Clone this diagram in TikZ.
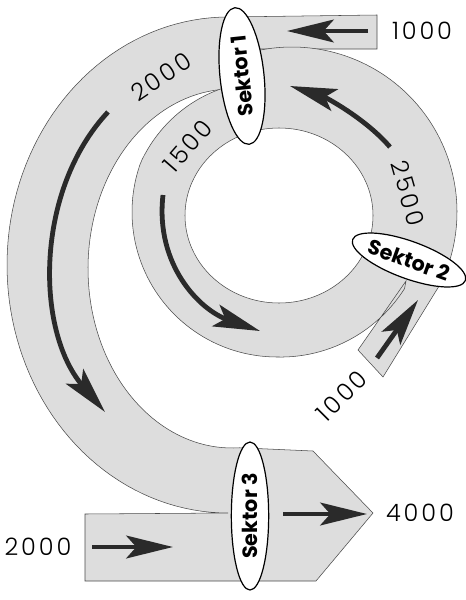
\documentclass[tikz,border=0pt]{standalone}
\usepackage{fontspec}
\setmainfont{Poppins}
\newfontfamily\numfont[LetterSpace=12,UprightFont=* Light]{Poppins}
\usetikzlibrary{arrows.meta,shapes.geometric}
\definecolor{flowgray}{HTML}{DDDDDD}
\definecolor{edgegray}{HTML}{4A4A4A}
\definecolor{arrowgray}{HTML}{2A2A2A}

\begin{document}
\begin{tikzpicture}[x=0.75pt,y=-0.75pt,
  band/.style={fill=flowgray,draw=edgegray,line width=0.4pt},
  flow/.style={-{Stealth[length=35pt,width=17pt,inset=7.5pt]},line width=3.6pt,arrowgray},
  sektor/.style={ellipse,draw=black,line width=0.9pt,fill=white,inner sep=0pt,
    font=\bfseries\fontsize{15.5}{15.5}\selectfont},
  amount/.style={font=\numfont\fontsize{18}{18}\selectfont}]
  \useasboundingbox (0,0) rectangle (466,600);
  % outer band with inlets and outlet
  \draw[band] (377,15) -- (377,49) -- (255,49) -- (224,88)
    -- plot[domain=267:87,samples=80] ({232+144*cos(\x)},{268.5+179.5*sin(\x)})
    -- (313,451) -- (373,513) -- (316,581) -- (85,581) -- (85,514)
    -- plot[domain=90:270,samples=80] ({228+221*cos(\x)},{265+248*sin(\x)})
    -- cycle;
  % inner ring
  \draw[band] plot[domain=-102:25.5,samples=80] ({292+165*cos(\x)},{212+165*sin(\x)})
    -- (383,377) -- (358,350) -- (406,281)
    -- plot[domain=31:247,samples=100]
      ({277+(145-10*max(0,(\x-200)/47)+3*max(0,(90-\x)/47))*cos(\x)},
       {212+(145-10*max(0,(\x-200)/47)+3*max(0,(90-\x)/47))*sin(\x)})
    -- cycle;
  \draw[fill=white,draw=edgegray,line width=0.4pt] (279,215.5) ellipse [x radius=94,y radius=87.5];
  % flows
  \draw[flow] (368,31) -- (287,31);
  \draw[flow] (390,147) .. controls (365,118) and (325,97) .. (290,86);
  \draw[flow] (108,112) .. controls (35,190) and (35,330) .. (105,412);
  \draw[flow] (163,195) .. controls (155,265) and (200,310) .. (260,331);
  \draw[flow] (377,358) -- (418,300);
  \draw[flow] (92,547) -- (173,547);
  \draw[flow] (283,514) -- (367,514);
  % sectors
  \node[sektor,rotate=96,minimum width=103pt,minimum height=33pt] (sek1) at (242,76) {Sektor 1};
  \node[sektor,rotate=-20,minimum width=84pt,minimum height=28pt] (sek2) at (409,260) {Sektor 2};
  \node[sektor,rotate=90,minimum width=111pt,minimum height=28pt] (sek3) at (250,516) {Sektor 3};
  % amounts
  \node[amount] (in1) at (422,31) {1000};
  \node[amount,rotate=34] (f2000) at (161,77) {2000};
  \node[amount,rotate=49] (f1500) at (188,146) {1500};
  \node[amount,rotate=-74] (f2500) at (408,193) {2500};
  \node[amount,rotate=45] (in2) at (342,396) {1000};
  \node[amount] (out) at (420,513) {4000};
  \node[amount] (in3) at (38,547) {2000};
\end{tikzpicture}
\end{document}
